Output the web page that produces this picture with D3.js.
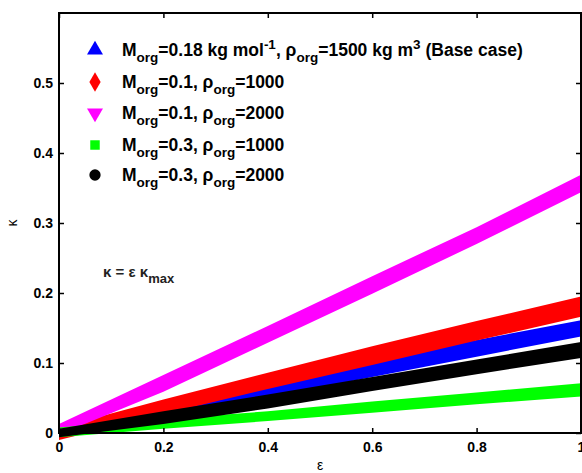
<!DOCTYPE html>
<meta charset="utf-8" />
<script src="https://d3js.org/d3.v7.min.js"></script>
<style>
  body { margin: 0; background: #fff; }
  text { font-family: Arial, "Liberation Sans", sans-serif; }
</style>
<body>
<div id="chart"></div>
<script>
var epsGrid = [0, 0.2, 0.4, 0.6, 0.8, 1];

// upper / lower edge of each scatter band (kappa)
var baseUpper = [0.006, 0.040, 0.072, 0.104, 0.133, 0.161];
var baseLower = [-0.004, 0.022, 0.050, 0.080, 0.109, 0.138];
var m01r1000Upper = [0.008, 0.048, 0.086, 0.124, 0.160, 0.195];
var m01r1000Lower = [-0.010, 0.027, 0.063, 0.097, 0.132, 0.166];
var m01r2000Upper = [0.013, 0.083, 0.153, 0.224, 0.294, 0.369];
var m01r2000Lower = [-0.002, 0.059, 0.129, 0.199, 0.270, 0.344];
var m03r1000Upper = [0.008, 0.020, 0.031, 0.045, 0.058, 0.071];
var m03r1000Lower = [-0.006, 0.006, 0.017, 0.029, 0.041, 0.052];
var m03r2000Upper = [0.006, 0.031, 0.055, 0.080, 0.105, 0.130];
var m03r2000Lower = [-0.006, 0.013, 0.035, 0.060, 0.084, 0.107];

var xTicks = [0, 0.2, 0.4, 0.6, 0.8, 1];
var yTicks = [0, 0.1, 0.2, 0.3, 0.4, 0.5];

var series = [
  { upper: baseUpper, lower: baseLower, color: "#0000ff", symbol: d3.symbolTriangle,
    label: [["M"], ["org", "sub"], ["=0.18 kg mol"], ["-1", "sup"], [", \u03c1"], ["org", "sub"], ["=1500 kg m"], ["3", "sup"], [" (Base case)"]] },
  { upper: m01r1000Upper, lower: m01r1000Lower, color: "#ff0000", symbol: d3.symbolDiamond,
    label: [["M"], ["org", "sub"], ["=0.1, \u03c1"], ["org", "sub"], ["=1000"]] },
  { upper: m01r2000Upper, lower: m01r2000Lower, color: "#ff00ff", symbol: "down",
    label: [["M"], ["org", "sub"], ["=0.1, \u03c1"], ["org", "sub"], ["=2000"]] },
  { upper: m03r1000Upper, lower: m03r1000Lower, color: "#00ff00", symbol: d3.symbolSquare,
    label: [["M"], ["org", "sub"], ["=0.3, \u03c1"], ["org", "sub"], ["=1000"]] },
  { upper: m03r2000Upper, lower: m03r2000Lower, color: "#000000", symbol: d3.symbolCircle,
    label: [["M"], ["org", "sub"], ["=0.3, \u03c1"], ["org", "sub"], ["=2000"]] }
];

var width = 582, height = 473;
var margin = { top: 13, right: 1, bottom: 40, left: 59 };

var svg = d3.select("#chart").append("svg")
  .attr("width", width).attr("height", height);

var x = d3.scaleLinear().domain([0, 1]).range([margin.left, width - margin.right]);
var y = d3.scaleLinear().domain([0, 0.6]).range([height - margin.bottom, margin.top]);

// bands
var area = d3.area()
  .x(function (d) { return x(d.e); })
  .y0(function (d) { return y(d.lo); })
  .y1(function (d) { return y(d.hi); });

series.forEach(function (s) {
  var pts = epsGrid.map(function (e, i) { return { e: e, lo: s.lower[i], hi: s.upper[i] }; });
  svg.append("path").attr("d", area(pts)).attr("fill", s.color);
});

// axes (ticks pointing inward, box around plot)
var tl = 5;
svg.append("g").attr("transform", "translate(0," + y(0) + ")")
  .call(d3.axisBottom(x).tickValues(xTicks).tickSizeInner(-tl).tickSizeOuter(0).tickPadding(9)
    .tickFormat(function (d) { return d === 0 || d === 1 ? d : d3.format(".1f")(d); }));
svg.append("g").attr("transform", "translate(0," + margin.top + ")")
  .call(d3.axisTop(x).tickValues(xTicks).tickSizeInner(-tl).tickSizeOuter(0).tickFormat(""));
svg.append("g").attr("transform", "translate(" + margin.left + ",0)")
  .call(d3.axisLeft(y).tickValues(yTicks).tickSizeInner(-tl).tickSizeOuter(0).tickPadding(6)
    .tickFormat(function (d) { return d === 0 ? "0" : d3.format(".1f")(d); }));
svg.append("g").attr("transform", "translate(" + (width - margin.right) + ",0)")
  .call(d3.axisRight(y).tickValues(yTicks).tickSizeInner(-tl).tickSizeOuter(0).tickFormat(""));

svg.selectAll(".domain").remove();
svg.selectAll(".tick line").attr("stroke", "#000").attr("stroke-width", 1.5);
svg.selectAll(".tick text").attr("font-size", 14).attr("font-weight", "bold")
  .attr("font-family", "Arial, 'Liberation Sans', sans-serif").attr("fill", "#000");

svg.append("rect")
  .attr("x", x(0)).attr("y", y(0.6))
  .attr("width", x(1) - x(0)).attr("height", y(0) - y(0.6))
  .attr("fill", "none").attr("stroke", "#000").attr("stroke-width", 2);

// axis labels
svg.append("text").attr("x", (x(0) + x(1)) / 2).attr("y", 470)
  .attr("text-anchor", "middle").attr("font-size", 14).text("\u03b5");
svg.append("text").attr("transform", "translate(17," + ((y(0) + y(0.6)) / 2) + ") rotate(-90)")
  .attr("text-anchor", "middle").attr("font-size", 14).text("\u03ba");

// legend
var legY = [50, 82, 113, 145, 175];
series.forEach(function (s, i) {
  var cy = legY[i];
  var sym;
  if (s.symbol === "down") {
    sym = svg.append("path").attr("d", d3.symbol(d3.symbolTriangle, 110)())
      .attr("transform", "translate(95," + cy + ") rotate(180)");
  } else {
    var size = s.symbol === d3.symbolSquare ? 90 : s.symbol === d3.symbolCircle ? 100 : 110;
    sym = svg.append("path").attr("d", d3.symbol(s.symbol, size)())
      .attr("transform", "translate(95," + cy + ")");
  }
  sym.attr("fill", s.color);

  var t = svg.append("text").attr("x", 122).attr("y", cy + 6)
    .attr("font-size", 17.5).attr("font-weight", "bold").attr("fill", "#000");
  var shift = 0;
  s.label.forEach(function (p) {
    var ts = t.append("tspan").text(p[0]);
    var target = p[1] === "sub" ? 6 : p[1] === "sup" ? -7 : 0;
    ts.attr("dy", target - shift);
    if (p[1]) ts.attr("font-size", 13.5);
    shift = target;
  });
});

// annotation
var ann = svg.append("text").attr("x", 103).attr("y", 277)
  .attr("font-size", 15).attr("font-weight", "bold").attr("fill", "#222");
ann.append("tspan").text("\u03ba = \u03b5 \u03ba");
ann.append("tspan").text("max").attr("dy", 6).attr("font-size", 13);
</script>
</body>
